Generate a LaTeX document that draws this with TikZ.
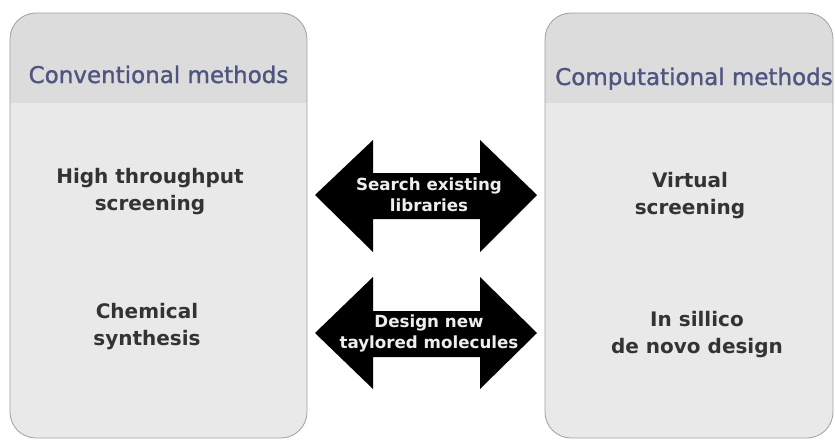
\documentclass[tikz,border=0pt]{standalone}
\usepackage{fontspec}
\setmainfont{DejaVu Sans}
\newfontfamily\hdrfont[FakeBold=1.2]{DejaVu Sans}
\definecolor{hdrfill}{HTML}{DCDCDC}
\definecolor{bodyfill}{HTML}{E9E9E9}
\definecolor{boxline}{HTML}{A0A0A0}
\definecolor{hdrtext}{HTML}{4F5480}
\definecolor{itemtext}{HTML}{333333}
\definecolor{arrtext}{HTML}{EEEEEE}
\begin{document}
\begin{tikzpicture}[x=1pt,y=-1pt,
  hdr/.style={text=hdrtext,font=\hdrfont\fontsize{23}{27}\selectfont,inner sep=0pt},
  item/.style={text=itemtext,font=\bfseries\fontsize{20}{27}\selectfont,align=center,inner sep=0pt},
  arrlabel/.style={text=arrtext,font=\bfseries\fontsize{16.7}{21}\selectfont,align=center,inner sep=0pt},
  arrshape/.style={fill=black}]
\useasboundingbox (0,0) rectangle (835,439);
% left box
\begin{scope}
  \clip[rounded corners=26pt] (10,13) rectangle (307,438);
  \fill[bodyfill] (10,13) rectangle (307,438);
  \fill[hdrfill] (10,13) rectangle (307,103);
\end{scope}
\draw[boxline,line width=0.8pt,rounded corners=26pt] (10,13) rectangle (307,438);
% right box
\begin{scope}
  \clip[rounded corners=26pt] (545,13) rectangle (833,438);
  \fill[bodyfill] (545,13) rectangle (833,438);
  \fill[hdrfill] (545,13) rectangle (833,103);
\end{scope}
\draw[boxline,line width=0.8pt,rounded corners=26pt] (545,13) rectangle (833,438);
% headers
\node[hdr,anchor=base] (conv) at (158.5,83) {Conventional methods};
\node[hdr,anchor=base] (comp) at (694,85) {Computational methods};
% items
\node[item] (hts) at (150,191.5) {High throughput\\screening};
\node[item] (chem) at (147,326.5) {Chemical\\synthesis};
\node[item] (virt) at (690,195.5) {Virtual\\screening};
\node[item] (insil) at (697,334.5) {In sillico\\de novo design};
% arrows
\fill[arrshape] (315,195) -- (373,140) -- (373,173) -- (480,173) -- (480,140) -- (537,195)
  -- (480,252) -- (480,219) -- (373,219) -- (373,252) -- cycle;
\fill[arrshape] (315,333) -- (373,277) -- (373,311) -- (480,311) -- (480,277) -- (537,333)
  -- (480,389) -- (480,357) -- (373,357) -- (373,389) -- cycle;
\node[arrlabel] (search) at (429,195) {Search existing\\libraries};
\node[arrlabel] (design) at (429,333) {Design new\\taylored molecules};
\end{tikzpicture}
\end{document}
